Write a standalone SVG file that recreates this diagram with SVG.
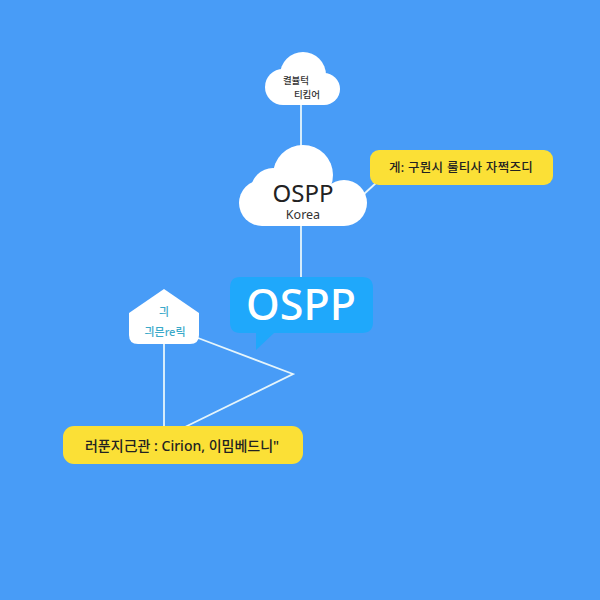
<svg xmlns="http://www.w3.org/2000/svg" width="600" height="600" viewBox="0 0 600 600">
<style>
.k{font-family:"Noto Sans","Noto Sans CJK KR",sans-serif;text-anchor:middle}
.c{fill:#fff}
.y{fill:#fbe036}
.l{fill:none;stroke:#e6f5fb;stroke-width:1.800;stroke-linejoin:miter}
</style>
<rect width="600" height="600" fill="#489cf7"/>
<g id="connectors">
<path class="l" d="M301 100V150"/>
<path class="l" d="M301 222V278"/>
<path class="l" d="M364 194L376 183"/>
<path class="l" d="M164 342V427"/>
<path class="l" d="M198 338L293 374L185 427"/>
</g>
<g id="cloud-top">
<circle class="c" cx="303" cy="75" r="23"/>
<circle class="c" cx="283" cy="87" r="18"/>
<circle class="c" cx="324" cy="89" r="16"/>
<rect class="c" x="283" y="80" width="41" height="25"/>
<text class="k" x="296" y="84" font-size="9.500" font-weight="500" fill="#333">켤뷸턱</text>
<text class="k" x="307" y="98" font-size="9.500" font-weight="500" fill="#333">티킴어</text>
</g>
<g id="cloud-ospp">
<circle class="c" cx="303" cy="175" r="30"/>
<circle class="c" cx="273" cy="190" r="22"/>
<circle class="c" cx="262" cy="203" r="23"/>
<circle class="c" cx="344" cy="203" r="23"/>
<rect class="c" x="262" y="185" width="82" height="41"/>
<text class="k" x="303" y="202" font-size="24" fill="#222">OSPP</text>
<text class="k" x="303" y="219" font-size="12.500" fill="#333">Korea</text>
</g>
<g id="note-top">
<rect class="y" x="370" y="150" width="183" height="35" rx="9"/>
<text class="k" x="461" y="172" font-size="12.500" font-weight="500" letter-spacing="0.300" fill="#222">게: 구뭔시 룰티사 자쩍즈디</text>
</g>
<g id="bubble-ospp">
<path fill="#1fa8fb" d="M240 277H362Q373 277 373 288V322Q373 333 362 333H274L256 350V333H240Q230 333 230 322V288Q230 277 240 277Z"/>
<text class="k" x="301" y="320" font-size="43" font-weight="500" fill="#fff">OSPP</text>
</g>
<g id="house">
<path class="c" d="M164 289L199 313V335Q199 344 190 344H138Q129 344 129 335V313Z"/>
<text class="k" x="164" y="316" font-size="11" font-weight="500" fill="#3aa9c9">긔</text>
<text class="k" x="165" y="336" font-size="11" font-weight="500" fill="#3aa9c9">긔믄re릭</text>
</g>
<g id="note-bottom">
<rect class="y" x="63" y="426" width="240" height="38" rx="11"/>
<text class="k" x="182" y="451" font-size="14" font-weight="500" fill="#222">러푼지己관 : Cirion, 이밈베드니"</text>
</g>
</svg>
